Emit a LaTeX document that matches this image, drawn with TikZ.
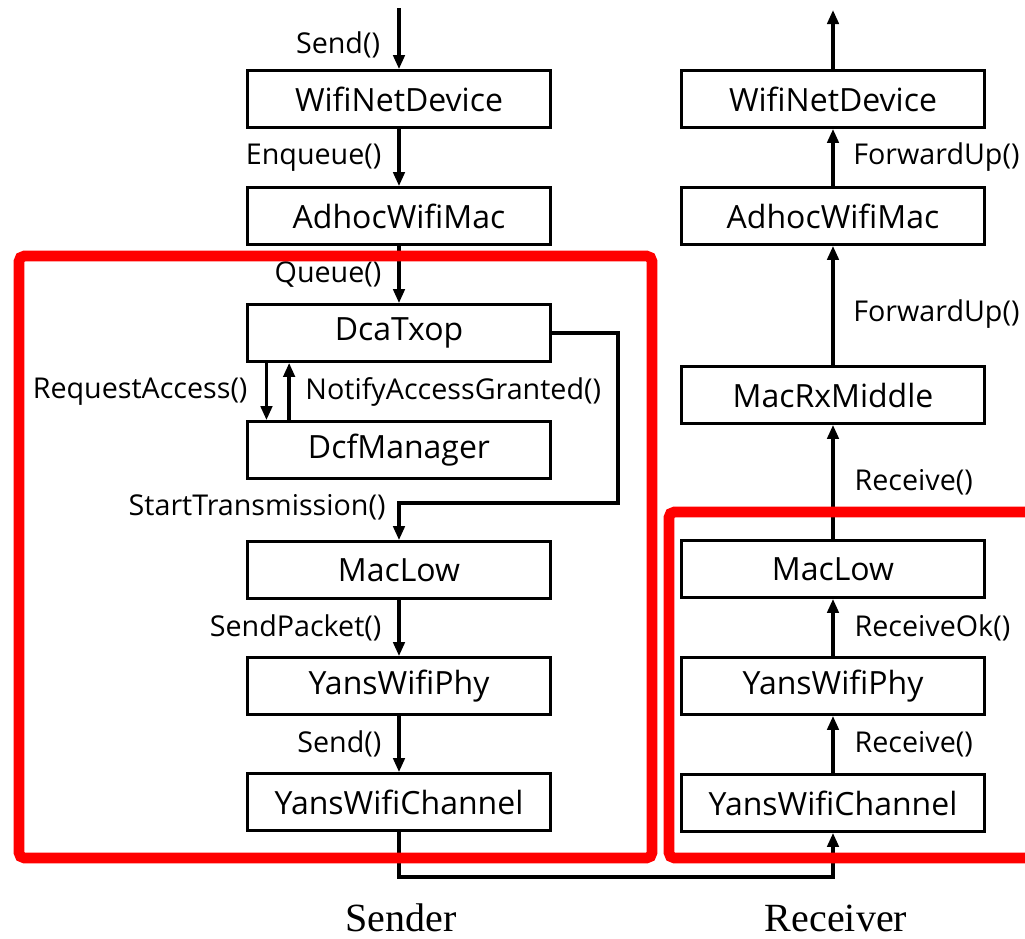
\documentclass[tikz,border=0pt]{standalone}
\usepackage{fontspec}
\setmainfont{Open Sans}
\newfontfamily\sidefont{Liberation Serif}
\usetikzlibrary{arrows.meta}

\tikzset{every picture/.style={line width=0.75pt}}
\tikzset{
  layer/.style={draw, line width=1.8pt, minimum width=227pt, minimum height=43pt, inner sep=0pt, font=\fontsize{24}{28}\selectfont},
  call/.style={line width=2.5pt, -{Triangle[length=10.5pt,width=8.5pt]}},
  fn/.style={font=\fontsize{21.5}{25}\selectfont, inner sep=0pt},
  frame/.style={draw=red, line width=8pt, rounded corners=4pt},
  side/.style={font=\sidefont\fontsize{30}{34}\selectfont}
}

\begin{document}
\begin{tikzpicture}[x=0.75pt,y=0.75pt,yscale=-1,xscale=1]
\useasboundingbox (0,0) rectangle (1025,939);

%Sender stack
\node [layer] (wndS) at (399,99) {WifiNetDevice};
\node [layer] (macS) at (399,216) {AdhocWifiMac};
\node [layer] (dca) at (399,333) {DcaTxop};
\node [layer] (dcf) at (399,450) {DcfManager};
\node [layer] (lowS) at (399,570) {MacLow};
\node [layer] (phyS) at (399,686) {YansWifiPhy};
\node [layer] (chS) at (399,802) {YansWifiChannel};

%Receiver stack
\node [layer] (wndR) at (833,99) {WifiNetDevice};
\node [layer] (macR) at (833,216) {AdhocWifiMac};
\node [layer] (rxm) at (833,395) {MacRxMiddle};
\node [layer] (lowR) at (833,569) {MacLow};
\node [layer] (phyR) at (833,686) {YansWifiPhy};
\node [layer] (chR) at (833,803) {YansWifiChannel};

\coordinate (src) at (399,8);
\coordinate (sink) at (833,10);
\coordinate (turn) at (618,503);
\coordinate (bus) at (600,877);

%Sender calls
\draw [call] (src) -- node [fn, left=13pt, pos=0.6] {Send()} (wndS.north);
\draw [call] (wndS.south) -- node [fn, left=12pt] {Enqueue()} (macS.north);
\draw [call] (macS.south) -- node [fn, left=12pt] {Queue()} (dca.north);
\draw [call] ([xshift=15pt]dca.south west) -- node [fn, left=13pt] {RequestAccess()} ([xshift=15pt]dcf.north west);
\draw [call] ([xshift=32pt]dcf.north west) -- node [fn, right=11pt] {NotifyAccessGranted()} ([xshift=32pt]dca.south west);
\draw [call] (dca.east) -| (turn) -| (lowS.north);
% Text Node
\node [fn, anchor=east] (stlbl) at (386,507) {StartTransmission()};
\draw [call] (lowS.south) -- node [fn, left=12pt] {SendPacket()} (phyS.north);
\draw [call] (phyS.south) -- node [fn, left=12pt] {Send()} (chS.north);

%Channel
\draw [call] (chS.south) |- (bus) -| (chR.south);

%Receiver calls
\draw [call] (chR.north) -- node [fn, right=15pt] {Receive()} (phyR.south);
\draw [call] (phyR.north) -- node [fn, right=15pt] {ReceiveOk()} (lowR.south);
\draw [call] (lowR.north) -- node [fn, right=15pt] {Receive()} (rxm.south);
\draw [call] (rxm.north) -- node [fn, right=14pt, pos=0.43] {ForwardUp()} (macR.south);
\draw [call] (macR.north) -- node [fn, right=14pt] {ForwardUp()} (wndR.south);
\draw [call] (wndR.north) -- (sink);

%Frames
\draw [frame] (19,256) rectangle (652,858);
\draw [frame] (1026,512) -- (669,512) -- (669,858) -- (1026,858);

% Text Node
\node [side] (snd) at (401,918) {Sender};
\node [side] (rcv) at (836,918) {Receiver};

\end{tikzpicture}
\end{document}
